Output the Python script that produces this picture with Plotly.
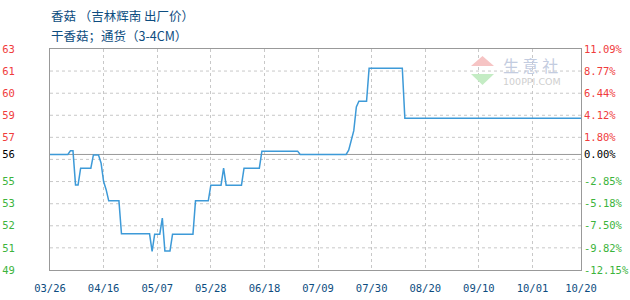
import plotly.graph_objects as go

# ---- data (percent change vs. base price) ----
dates = ["2021-03-26", "2021-04-02", "2021-04-03", "2021-04-04", "2021-04-05", "2021-04-06",
         "2021-04-07", "2021-04-11", "2021-04-12", "2021-04-14", "2021-04-15", "2021-04-16",
         "2021-04-17", "2021-04-18", "2021-04-22", "2021-04-23", "2021-05-04", "2021-05-05",
         "2021-05-06", "2021-05-08", "2021-05-09", "2021-05-10", "2021-05-12", "2021-05-13",
         "2021-05-21", "2021-05-22", "2021-05-27", "2021-05-28", "2021-06-01", "2021-06-02",
         "2021-06-03", "2021-06-09", "2021-06-10", "2021-06-16", "2021-06-17", "2021-07-01",
         "2021-07-02", "2021-07-20", "2021-07-21", "2021-07-22", "2021-07-23", "2021-07-24",
         "2021-07-25", "2021-07-28", "2021-07-29", "2021-08-11", "2021-08-12", "2021-10-20"]
pct = [0.00, 0.00, 0.38, 0.38, -3.20, -3.20,
       -1.44, -1.44, -0.05, -0.05, -0.90, -2.85,
       -3.70, -4.88, -4.88, -8.35, -8.35, -10.20,
       -8.38, -8.38, -6.70, -10.14, -10.14, -8.38,
       -8.38, -4.88, -4.88, -3.23, -3.23, -1.44,
       -3.23, -3.23, -1.44, -1.44, 0.35, 0.35,
       0.00, 0.00, 0.45, 1.65, 2.50, 5.00,
       5.60, 5.60, 9.07, 9.07, 3.82, 3.82]

y_ticks = [11.09, 8.77, 6.44, 4.12, 1.80, 0.00, -2.85, -5.18, -7.50, -9.82, -12.15]
price_labels = ["63", "61", "60", "59", "57", "56", "55", "53", "52", "51", "49"]
pct_labels = ["11.09%", "8.77%", "6.44%", "4.12%", "1.80%", "0.00%",
              "-2.85%", "-5.18%", "-7.50%", "-9.82%", "-12.15%"]
grid_vals = [8.77, 6.44, 4.12, 1.80, -0.52, -2.85, -5.18, -7.50, -9.82]

x_ticks = ["2021-03-26", "2021-04-16", "2021-05-07", "2021-05-28", "2021-06-18", "2021-07-09",
           "2021-07-30", "2021-08-20", "2021-09-10", "2021-10-01", "2021-10-20"]
x_labels = ["03/26", "04/16", "05/07", "05/28", "06/18", "07/09",
            "07/30", "08/20", "09/10", "10/01", "10/20"]

title1 = "香菇 （吉林辉南 出厂价）"
title2 = "干香菇；通货（3-4CM）"

RED, GREEN, BLACK = "#f03c3c", "#3cb43c", "#000000"
BLUE_TXT = "#0d4d80"
GRID = "#c8c8c8"
AXIS = "#999999"


def colored(labels, vals):
    out = []
    for t, v in zip(labels, vals):
        c = RED if v > 0 else (GREEN if v < 0 else BLACK)
        out.append(f'<span style="color:{c}">{t}</span>')
    return out


fig = go.Figure()
fig.add_trace(go.Scatter(x=dates, y=pct, mode="lines",
                         line=dict(color="#3d9ad8", width=1.5), hoverinfo="skip",
                         showlegend=False))
fig.add_trace(go.Scatter(x=dates, y=pct, mode="lines", yaxis="y2",
                         line=dict(color="rgba(0,0,0,0)", width=0), hoverinfo="skip",
                         showlegend=False))

tickfont = dict(family="DejaVu Sans Mono", size=10.5)

shapes = []
for g in grid_vals:
    shapes.append(dict(type="line", xref="paper", x0=0, x1=1, yref="y", y0=g, y1=g,
                       line=dict(color=GRID, width=1, dash="3px,3px"), layer="below"))
shapes.append(dict(type="line", xref="paper", x0=0, x1=1, yref="y", y0=0, y1=0,
                   line=dict(color=AXIS, width=1), layer="below"))

fig.update_layout(
    width=630, height=300,
    margin=dict(l=50, r=49, t=49, b=30, autoexpand=False),
    paper_bgcolor="white", plot_bgcolor="white",
    shapes=shapes,
    xaxis=dict(type="date", range=[x_ticks[0], x_ticks[-1]],
               tickvals=x_ticks, ticktext=x_labels,
               tickfont=dict(family="DejaVu Sans Mono", size=10.5, color=BLUE_TXT),
               showgrid=True, gridcolor=GRID, griddash="3px,3px", gridwidth=1,
               showline=True, linecolor=AXIS, linewidth=1, mirror=True,
               ticks="", zeroline=False, ticklabelstandoff=8, automargin=False),
    yaxis=dict(range=[y_ticks[-1], y_ticks[0]], tickvals=y_ticks,
               ticktext=colored(price_labels, y_ticks), tickfont=tickfont,
               showgrid=False, zeroline=False, ticks="",
               showline=True, linecolor=AXIS, linewidth=1, mirror=True,
               ticklabelstandoff=32, automargin=False),
    yaxis2=dict(range=[y_ticks[-1], y_ticks[0]], tickvals=y_ticks,
                ticktext=colored(pct_labels, y_ticks), tickfont=tickfont,
                overlaying="y", side="right", showgrid=False, zeroline=False,
                ticks="", showline=False, ticklabelstandoff=2, automargin=False),
)

fig.add_annotation(text=title1, xref="paper", yref="paper", x=0, y=1, xshift=-1, yshift=34,
                   xanchor="left", yanchor="middle", showarrow=False,
                   font=dict(family="Noto Sans CJK SC", size=12.5, color=BLUE_TXT))
fig.add_annotation(text=title2, xref="paper", yref="paper", x=0, y=1, xshift=-1, yshift=14,
                   xanchor="left", yanchor="middle", showarrow=False,
                   font=dict(family="Noto Sans CJK SC", size=12.5, color=BLUE_TXT))

# watermark (pixel-derived paper coords: plot spans x 50..581, y 49..270)
def px(x):
    return (x - 50) / 531.0


def py(y):
    return (270 - y) / 221.0


fig.add_shape(type="path", xref="paper", yref="paper",
              path=f"M {px(471)} {py(66)} L {px(494)} {py(66)} L {px(482.5)} {py(56)} Z",
              fillcolor="#f6c4c4", line=dict(width=0))
fig.add_shape(type="path", xref="paper", yref="paper",
              path=f"M {px(471)} {py(74)} L {px(494)} {py(74)} L {px(482.5)} {py(85)} Z",
              fillcolor="#c4ecc4", line=dict(width=0))
fig.add_annotation(text="生 意 社", xref="paper", yref="paper", x=px(501), y=py(65),
                   xanchor="left", yanchor="middle", showarrow=False,
                   font=dict(family="Noto Sans CJK SC", size=16, color="#c3cce0"))
fig.add_annotation(text="100PPI.COM", xref="paper", yref="paper", x=px(501), y=py(81),
                   xanchor="left", yanchor="middle", showarrow=False,
                   font=dict(family="DejaVu Sans", size=9.5, color="#cfcfcf"))

fig.write_html("out.html")
